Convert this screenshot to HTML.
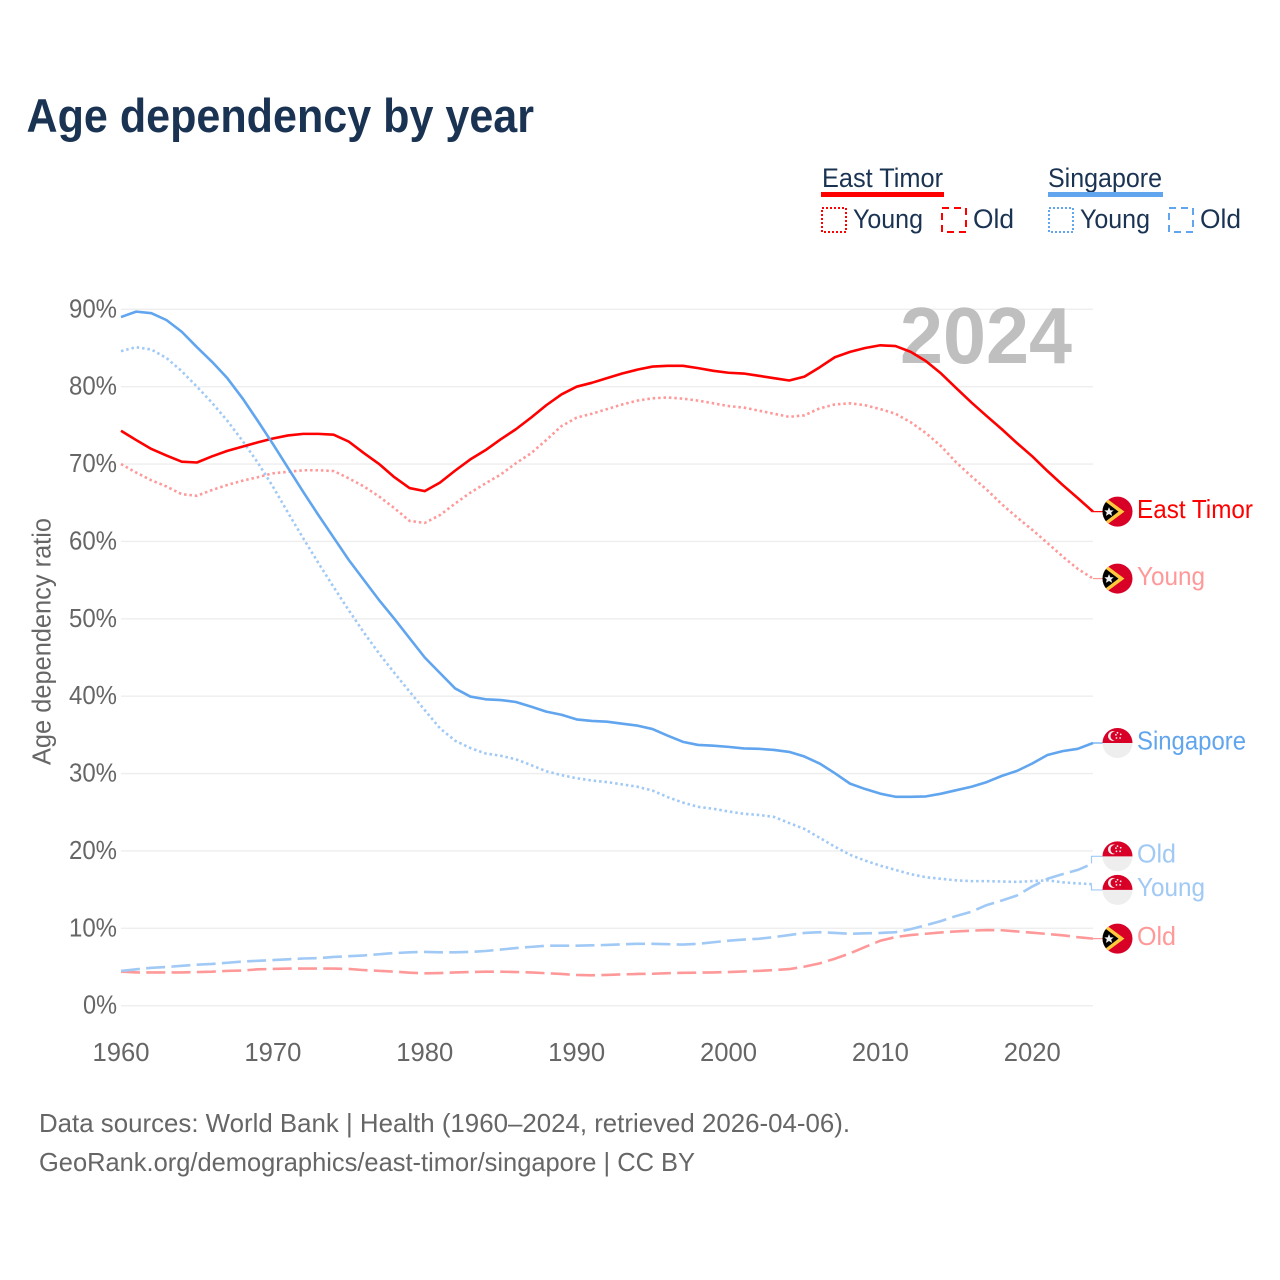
<!DOCTYPE html>
<html lang="en">
<head>
<meta charset="utf-8">
<title>Age dependency by year</title>
<style>
html,body{margin:0;padding:0;background:#fff;}
svg{display:block;}
text{font-family:"Liberation Sans",sans-serif;}
</style>
</head>
<body>
<svg id="chart" xmlns="http://www.w3.org/2000/svg" width="1280" height="1280" viewBox="0 0 1280 1280">
  <rect x="0" y="0" width="1280" height="1280" fill="#fff"/>
  <defs>
    <clipPath id="flag-clip"><circle cx="0" cy="0" r="15"/></clipPath>
  </defs>
  <text x="26.5" y="132" font-size="47" font-weight="700" fill="#1a3353" textLength="507.5" lengthAdjust="spacingAndGlyphs">Age dependency by year</text>

  <g>
    <text x="822" y="187" font-size="27" fill="#1a3353" textLength="121" lengthAdjust="spacingAndGlyphs">East Timor</text>
    <rect x="821" y="192" width="123" height="5" fill="#ff0000"/>
    <rect x="822" y="208" width="24" height="24" fill="none" stroke="#ff0000" stroke-width="2" stroke-dasharray="2 2"/>
    <text x="853" y="228" font-size="27" fill="#1a3353" textLength="70" lengthAdjust="spacingAndGlyphs">Young</text>
    <rect x="942" y="208" width="24" height="24" fill="none" stroke="#ff0000" stroke-width="2" stroke-dasharray="7 5"/>
    <text x="973" y="228" font-size="27" fill="#1a3353" textLength="41" lengthAdjust="spacingAndGlyphs">Old</text>

    <text x="1048" y="187" font-size="27" fill="#1a3353" textLength="114" lengthAdjust="spacingAndGlyphs">Singapore</text>
    <rect x="1048" y="192" width="115" height="5" fill="#60a5ee"/>
    <rect x="1049" y="208" width="24" height="24" fill="none" stroke="#60a5ee" stroke-width="2" stroke-dasharray="2 2"/>
    <text x="1080" y="228" font-size="27" fill="#1a3353" textLength="70" lengthAdjust="spacingAndGlyphs">Young</text>
    <rect x="1169" y="208" width="24" height="24" fill="none" stroke="#60a5ee" stroke-width="2" stroke-dasharray="7 5"/>
    <text x="1200" y="228" font-size="27" fill="#1a3353" textLength="41" lengthAdjust="spacingAndGlyphs">Old</text>
  </g>

  <g id="grid"></g>
  <text x="900" y="363" font-size="80" font-weight="700" fill="#bfbfbf" textLength="172" lengthAdjust="spacingAndGlyphs">2024</text>
  <g id="series"></g>
  <g id="ends"></g>
  <g id="yaxis"></g>
  <g id="xaxis"></g>
  <text transform="translate(50.5,641.5) rotate(-90)" text-anchor="middle" font-size="25.5" fill="#666" textLength="247" lengthAdjust="spacingAndGlyphs">Age dependency ratio</text>

  <text x="39" y="1132" font-size="26" fill="#666" textLength="811" lengthAdjust="spacingAndGlyphs">Data sources: World Bank | Health (1960–2024, retrieved 2026-04-06).</text>
  <text x="39" y="1171" font-size="26" fill="#666" textLength="656" lengthAdjust="spacingAndGlyphs">GeoRank.org/demographics/east-timor/singapore | CC BY</text>
</svg>
<script>
const years = [1960,1961,1962,1963,1964,1965,1966,1967,1968,1969,1970,1971,1972,1973,1974,1975,1976,1977,1978,1979,1980,1981,1982,1983,1984,1985,1986,1987,1988,1989,1990,1991,1992,1993,1994,1995,1996,1997,1998,1999,2000,2001,2002,2003,2004,2005,2006,2007,2008,2009,2010,2011,2012,2013,2014,2015,2016,2017,2018,2019,2020,2021,2022,2023,2024];
const xTickYears = [1960,1970,1980,1990,2000,2010,2020];
const yTickValues = [0,10,20,30,40,50,60,70,80,90];
const yTickLabels = ["0%","10%","20%","30%","40%","50%","60%","70%","80%","90%"];

const eastTimorTotal = [74.3,73.1,71.95,71.1,70.3,70.2,71.0,71.7,72.25,72.8,73.3,73.7,73.9,73.9,73.8,72.9,71.4,70.0,68.3,66.9,66.5,67.6,69.15,70.6,71.8,73.2,74.5,76.0,77.6,79.0,80.0,80.5,81.1,81.7,82.2,82.6,82.7,82.7,82.4,82.05,81.8,81.7,81.4,81.1,80.8,81.3,82.5,83.8,84.5,85.0,85.35,85.25,84.5,83.3,81.7,79.8,77.95,76.2,74.5,72.7,71.0,69.1,67.3,65.6,63.85];
const eastTimorYoung = [70.0,68.9,67.9,67.1,66.1,65.9,66.65,67.3,67.85,68.3,68.8,69.0,69.2,69.2,69.1,68.15,67.1,65.8,64.3,62.65,62.4,63.4,64.9,66.3,67.5,68.65,70.1,71.4,73.1,74.9,76.0,76.5,77.1,77.7,78.2,78.5,78.6,78.45,78.2,77.85,77.5,77.3,76.9,76.5,76.1,76.3,77.2,77.7,77.85,77.6,77.1,76.5,75.4,74.0,72.3,70.2,68.4,66.7,64.8,63.1,61.5,59.8,58.05,56.45,55.2];
const eastTimorOld = [4.4,4.3,4.3,4.3,4.3,4.35,4.4,4.5,4.55,4.7,4.75,4.8,4.8,4.8,4.8,4.75,4.6,4.5,4.4,4.27,4.18,4.22,4.3,4.35,4.4,4.4,4.35,4.3,4.2,4.1,3.97,3.93,3.97,4.05,4.1,4.13,4.2,4.25,4.27,4.3,4.35,4.43,4.5,4.6,4.73,5.05,5.47,6.07,6.77,7.6,8.4,8.87,9.13,9.3,9.47,9.6,9.7,9.77,9.75,9.6,9.43,9.27,9.1,8.85,8.67];
const singaporeTotal = [89.0,89.7,89.5,88.6,87.1,85.1,83.2,81.1,78.5,75.6,72.6,69.5,66.4,63.4,60.5,57.6,55.0,52.4,50.0,47.5,45.0,43.0,41.0,39.95,39.6,39.5,39.25,38.65,38.0,37.6,37.0,36.8,36.7,36.45,36.2,35.75,34.9,34.1,33.7,33.6,33.45,33.25,33.2,33.05,32.8,32.2,31.3,30.05,28.7,28.0,27.4,27.0,27.0,27.05,27.4,27.85,28.3,28.9,29.7,30.35,31.3,32.4,32.9,33.2,33.95];
const singaporeYoung = [84.6,85.1,84.8,83.7,82.0,80.0,77.9,75.6,73.0,70.2,67.1,63.7,60.4,57.2,54.1,51.1,48.2,45.5,43.0,40.6,38.2,35.85,34.25,33.3,32.6,32.3,31.85,31.1,30.3,29.8,29.4,29.1,28.9,28.6,28.3,27.8,26.95,26.25,25.7,25.45,25.1,24.8,24.65,24.4,23.6,22.85,21.7,20.55,19.5,18.75,18.1,17.55,17.0,16.6,16.4,16.2,16.1,16.1,16.05,16.0,16.1,16.2,15.95,15.8,15.7];
const singaporeOld = [4.5,4.7,4.9,5.0,5.15,5.3,5.4,5.55,5.7,5.8,5.9,6.0,6.1,6.15,6.3,6.4,6.5,6.65,6.8,6.9,6.95,6.9,6.9,6.95,7.07,7.25,7.45,7.6,7.75,7.75,7.75,7.8,7.85,7.93,8.0,8.0,7.95,7.9,8.0,8.2,8.4,8.55,8.65,8.87,9.13,9.4,9.5,9.4,9.3,9.35,9.4,9.5,9.9,10.4,10.95,11.6,12.15,13.0,13.6,14.25,15.4,16.4,17.0,17.55,18.4];

const NS = "http://www.w3.org/2000/svg";
const xScale = function (year) { return 121 + (year - 1960) * (1093 - 121) / (2024 - 1960); };
const yScale = function (value) { return 1005.7 - value * (1005.7 - 309.3) / 90; };
const RED = "#ff0000", BLUE = "#60a5ee", PINK = "#ff9999", SKY = "#a0c9f5";
const DOTTED = "2.5 2.9", DASHED = "19 6.3";

function svgEl(parent, tag, attrs) {
  const el = document.createElementNS(NS, tag);
  for (const key in attrs) el.setAttribute(key, attrs[key]);
  parent.appendChild(el);
  return el;
}

const gridGroup = document.getElementById("grid");
const yAxisGroup = document.getElementById("yaxis");
yTickValues.forEach(function (value, i) {
  const line = svgEl(gridGroup, "line", {x1: 121, x2: 1093, y1: yScale(value), y2: yScale(value), stroke: "#eeeeee", "stroke-width": 1.3});
  
  
  const label = svgEl(yAxisGroup, "text", {x: 117, y: yScale(value) + 8, "text-anchor": "end", "font-size": 25.5, fill: "#666", textLength: value === 0 ? 34 : 48, lengthAdjust: "spacingAndGlyphs"});
  label.textContent = yTickLabels[i];
  
  
});

const xAxisGroup = document.getElementById("xaxis");
xTickYears.forEach(function (year) {
  const label = svgEl(xAxisGroup, "text", {x: xScale(year), y: 1061, "text-anchor": "middle", "font-size": 25.5, fill: "#666", textLength: 57, lengthAdjust: "spacingAndGlyphs"});
  label.textContent = String(year);
  
  
});

function pathFor(values) {
  return values.map(function (v, i) {
    return (i ? "L" : "M") + xScale(years[i]).toFixed(2) + " " + yScale(v).toFixed(2);
  }).join("");
}

const seriesGroup = document.getElementById("series");
function drawLine(values, color, dash, name) {
  const attrs = {d: pathFor(values), fill: "none", stroke: color, "stroke-width": 2.6, "stroke-linejoin": "round"};
  if (dash) attrs["stroke-dasharray"] = dash;
  const path = svgEl(seriesGroup, "path", attrs);
  
  
}
drawLine(eastTimorOld, PINK, DASHED, 'line-east-timor-old');
drawLine(singaporeOld, SKY, DASHED, 'line-singapore-old');
drawLine(eastTimorYoung, PINK, DOTTED, 'line-east-timor-young');
drawLine(singaporeYoung, SKY, DOTTED, 'line-singapore-young');
drawLine(eastTimorTotal, RED, null, 'line-east-timor-total');
drawLine(singaporeTotal, BLUE, null, 'line-singapore-total');

function drawTimorFlag(g) {
  svgEl(g, "circle", {r: 15, fill: "#d80027"});
  const clip = svgEl(g, "g", {"clip-path": "url(#flag-clip)"});
  svgEl(clip, "polygon", {points: "-16,-17 7,0 -16,17", fill: "#ffc83d"});
  svgEl(clip, "polygon", {points: "-16,-13 1,0 -16,13", fill: "#000"});
  svgEl(g, "polygon", {points: "-8.5,-4.5 -7.2,-1.3 -3.8,-1.3 -6.3,0.9 -5.4,4.2 -8.5,2.4 -11.6,4.2 -10.7,0.9 -13.2,-1.3 -9.8,-1.3", fill: "#f0f0f0"});
}
function drawSingaporeFlag(g) {
  svgEl(g, "circle", {r: 15, fill: "#eeeeee"});
  svgEl(g, "path", {d: "M-15 0A15 15 0 0 1 15 0Z", fill: "#d80027"});
  svgEl(g, "circle", {cx: -4.5, cy: -7, r: 5, fill: "#f0f0f0"});
  svgEl(g, "circle", {cx: -2.4, cy: -7, r: 4.6, fill: "#d80027"});
  [[0, -10.2], [3.2, -8.6], [2.6, -5], [-1, -5], [-1.6, -8.2]].forEach(function (p) {
    svgEl(g, "circle", {cx: p[0], cy: p[1], r: 0.9, fill: "#f0f0f0"});
  });
}

const endsGroup = document.getElementById("ends");
function drawEnd(values, shift, color, labelText, labelWidth, flag, name) {
  const lastY = yScale(values[values.length - 1]);
  const flagY = lastY + shift;
  const lastX = xScale(2024);
  const stubD = shift === 0
    ? "M" + lastX + " " + lastY + "H1103"
    : "M" + (lastX - 1.5) + " " + (lastY + (shift > 0 ? 1 : 0)) + "V" + flagY + "H1103";
  const stub = svgEl(endsGroup, "path", {d: stubD, fill: "none", stroke: color, "stroke-width": 1.2});
  
  
  const g = svgEl(endsGroup, "g", {transform: "translate(1117.5," + flagY + ")"});
  
  
  flag(g);
  const text = svgEl(endsGroup, "text", {x: 1137, y: flagY + 6.3, "font-size": 26, fill: color, textLength: labelWidth, lengthAdjust: "spacingAndGlyphs"});
  text.textContent = labelText;
  
  
}
drawEnd(eastTimorTotal, 0, RED, "East Timor", 116, drawTimorFlag, 'end-east-timor-total');
drawEnd(eastTimorYoung, 0, PINK, "Young", 68, drawTimorFlag, 'end-east-timor-young');
drawEnd(singaporeTotal, 0, BLUE, "Singapore", 109, drawSingaporeFlag, 'end-singapore-total');
drawEnd(singaporeOld, -7, SKY, "Old", 39, drawSingaporeFlag, 'end-singapore-old');
drawEnd(singaporeYoung, 5.7, SKY, "Young", 68, drawSingaporeFlag, 'end-singapore-young');
drawEnd(eastTimorOld, 0, PINK, "Old", 39, drawTimorFlag, 'end-east-timor-old');
</script>
</body>
</html>
